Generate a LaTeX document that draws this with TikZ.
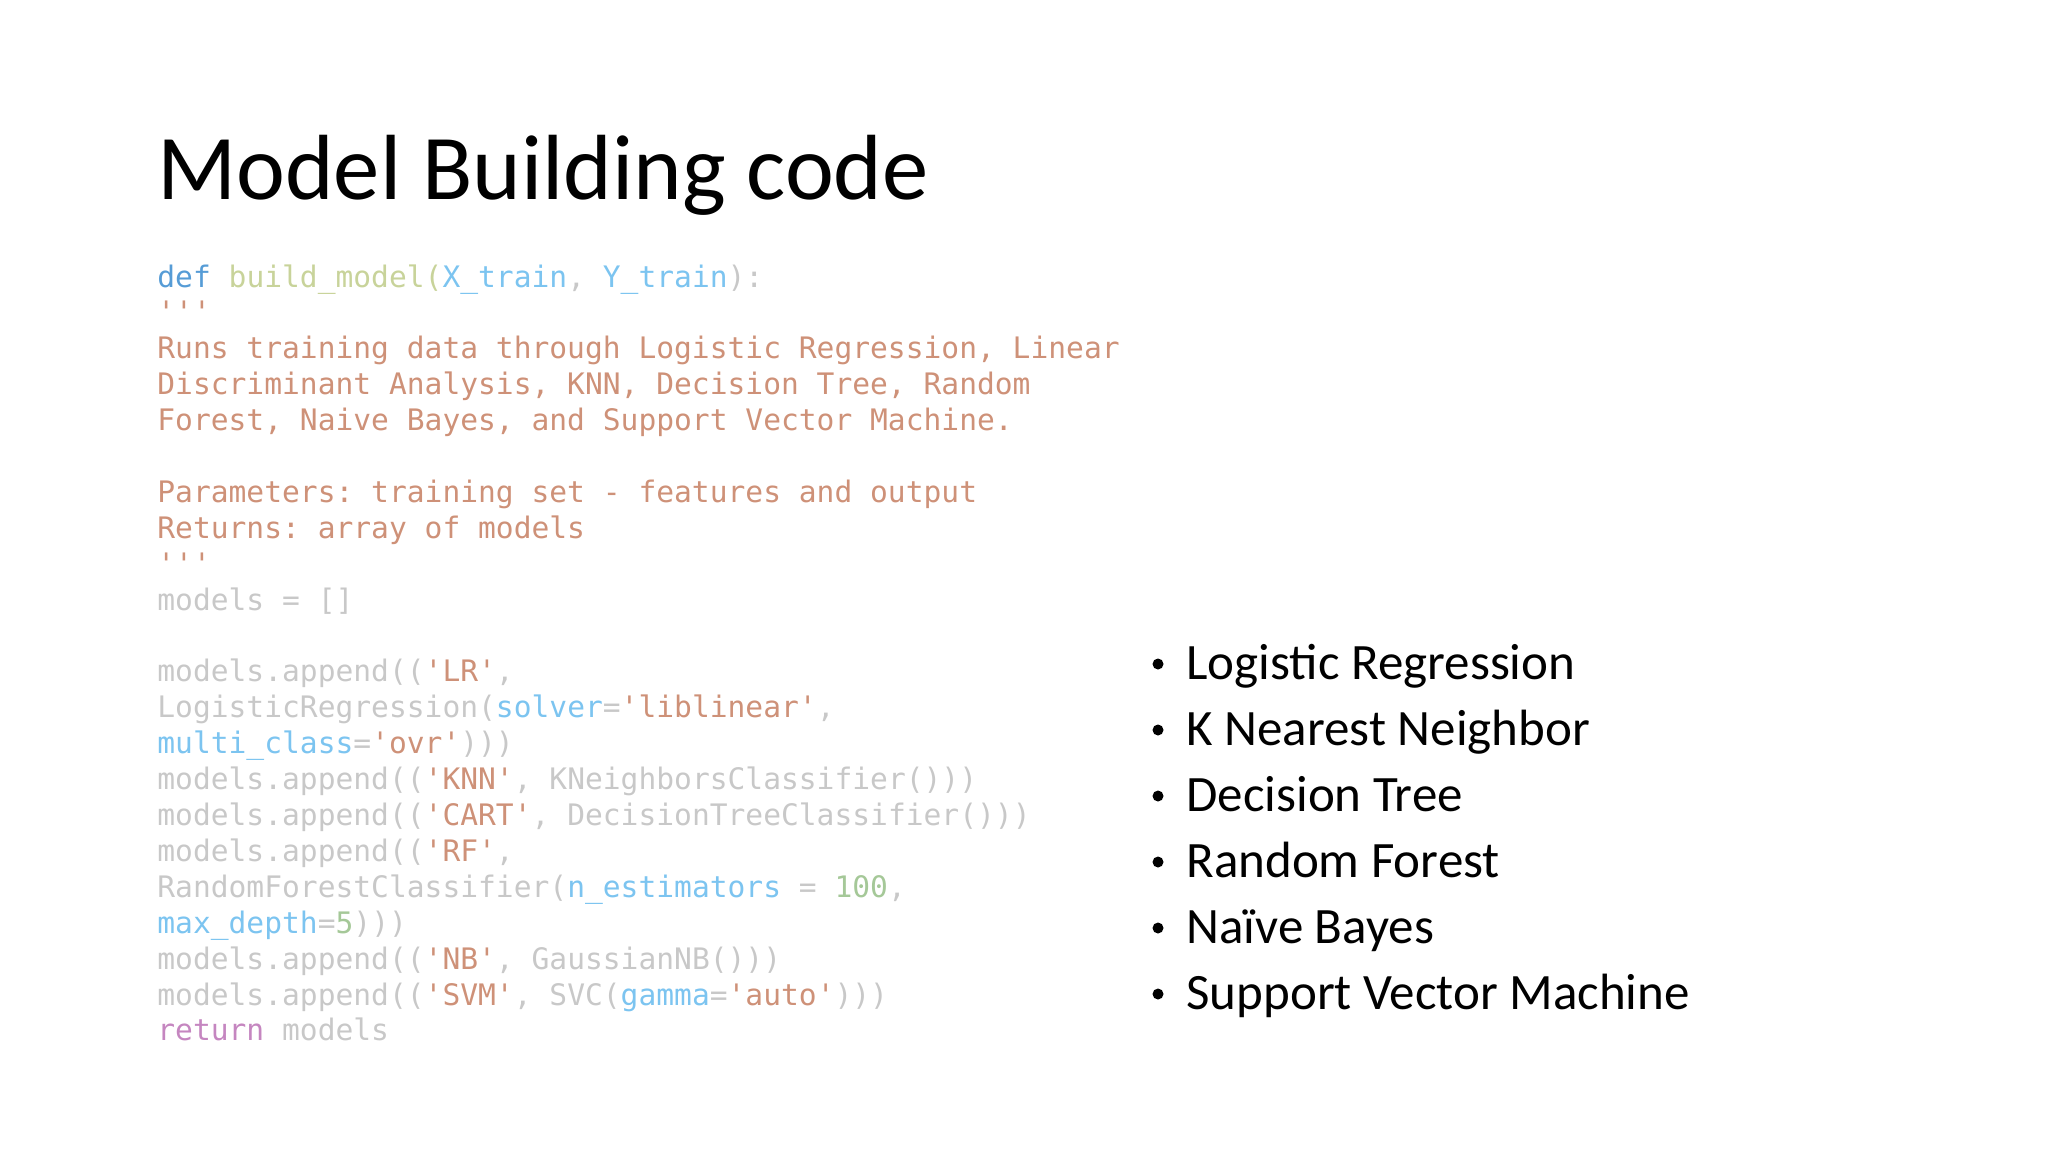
\documentclass[tikz,border=0pt]{standalone}
\usepackage{fontspec}
\setmainfont{Carlito}
\setmonofont{DejaVu Sans Mono}
\definecolor{ckw}{HTML}{569CD6}
\definecolor{cfn}{HTML}{C8D39A}
\definecolor{cpar}{HTML}{7CC4F0}
\definecolor{cstr}{HTML}{CE9178}
\definecolor{cdef}{HTML}{C8C8C8}
\definecolor{cret}{HTML}{C586C0}
\definecolor{cnum}{HTML}{A5C898}
\newcommand{\K}[1]{\textcolor{ckw}{#1}}
\newcommand{\F}[1]{\textcolor{cfn}{#1}}
\newcommand{\Pp}[1]{\textcolor{cpar}{#1}}
\newcommand{\Ss}[1]{\textcolor{cstr}{#1}}
\newcommand{\R}[1]{\textcolor{cret}{#1}}
\newcommand{\N}[1]{\textcolor{cnum}{#1}}
\begin{document}
\begin{tikzpicture}[x=0.5pt,y=-0.5pt,
  code/.style={anchor=base west,inner sep=0,font=\ttfamily\fontsize{14.8}{17.9}\selectfont,text=cdef},
  bul/.style={anchor=base west,inner sep=0,font=\fontsize{25.5}{30}\selectfont}]
\useasboundingbox (0,0) rectangle (2048,1152);
\node[anchor=base west,inner sep=0,font=\fontsize{46.3}{56}\selectfont] (title) at (157,199) {Model Building code};
\def\cx{157}
\node[code] (l1) at (\cx,287.0) {\K{def} \F{build\_model(}\Pp{X\_train}, \Pp{Y\_train}):};
\node[code] (l2) at (\cx,322.9) {\Ss{'''}};
\node[code] (l3) at (\cx,358.8) {\Ss{Runs training data through Logistic Regression, Linear}};
\node[code] (l4) at (\cx,394.7) {\Ss{Discriminant Analysis, KNN, Decision Tree, Random}};
\node[code] (l5) at (\cx,430.6) {\Ss{Forest, Naive Bayes, and Support Vector Machine.}};
\node[code] (l7) at (\cx,502.4) {\Ss{Parameters: training set - features and output}};
\node[code] (l8) at (\cx,538.3) {\Ss{Returns: array of models}};
\node[code] (l9) at (\cx,574.2) {\Ss{'''}};
\node[code] (l10) at (\cx,610.1) {models = []};
\node[code] (l12) at (\cx,681.9) {models.append((\Ss{'LR'},};
\node[code] (l13) at (\cx,717.8) {LogisticRegression(\Pp{solver}=\Ss{'liblinear'},};
\node[code] (l14) at (\cx,753.7) {\Pp{multi\_class}=\Ss{'ovr'})))};
\node[code] (l15) at (\cx,789.6) {models.append((\Ss{'KNN'}, KNeighborsClassifier()))};
\node[code] (l16) at (\cx,825.5) {models.append((\Ss{'CART'}, DecisionTreeClassifier()))};
\node[code] (l17) at (\cx,861.4) {models.append((\Ss{'RF'},};
\node[code] (l18) at (\cx,897.3) {RandomForestClassifier(\Pp{n\_estimators} = \N{100},};
\node[code] (l19) at (\cx,933.2) {\Pp{max\_depth}=\N{5})))};
\node[code] (l20) at (\cx,969.1) {models.append((\Ss{'NB'}, GaussianNB()))};
\node[code] (l21) at (\cx,1005.0) {models.append((\Ss{'SVM'}, SVC(\Pp{gamma}=\Ss{'auto'})))};
\node[code] (l22) at (\cx,1040.9) {\R{return} models};
\foreach \t [count=\i from 0] in {Logistic Regression,K Nearest Neighbor,Decision Tree,Random Forest,Naïve Bayes,Support Vector Machine}{
  \fill (1158,664+66*\i) circle (5.5);
  \node[bul] (t\i) at (1186,679+66*\i) {\t};
}
\end{tikzpicture}
\end{document}
